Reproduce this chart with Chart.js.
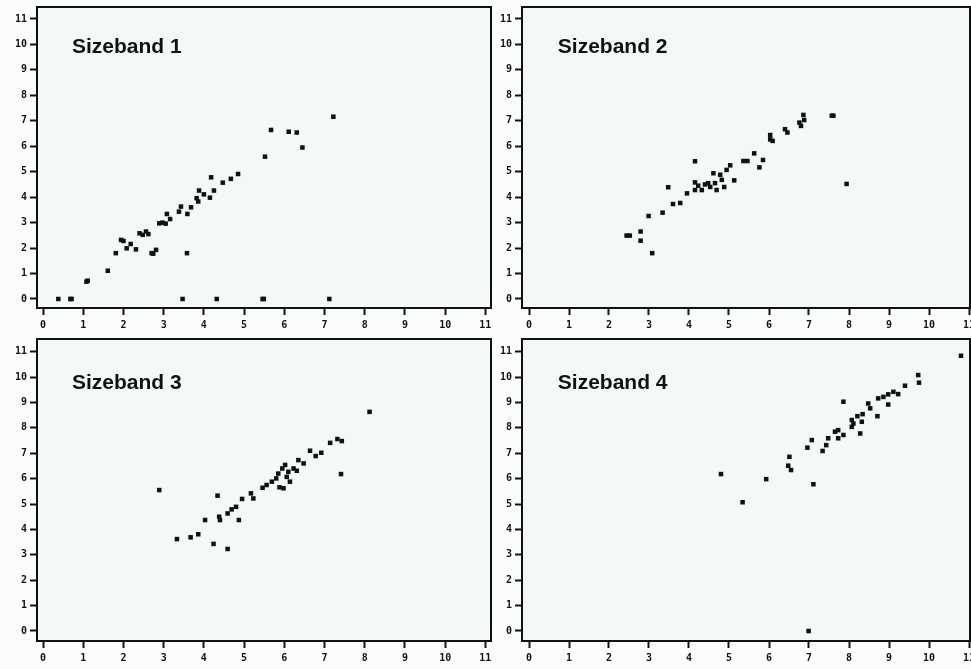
<!DOCTYPE html>
<html>
<head>
<meta charset="utf-8">
<script src="https://cdn.jsdelivr.net/npm/chart.js@4/dist/chart.umd.min.js"></script>
<style>
  html,body{margin:0;padding:0;background:#fbfdfc;}
  #wrap{position:relative;width:971px;height:669px;overflow:hidden;}
  canvas{position:absolute;}
</style>
</head>
<body>
<div id="wrap">
  <canvas id="sb1" style="left:0;top:0" width="495" height="335"></canvas>
  <canvas id="sb2" style="left:485px;top:0" width="489" height="335"></canvas>
  <canvas id="sb3" style="left:0;top:332px" width="495" height="337"></canvas>
  <canvas id="sb4" style="left:485px;top:332px" width="489" height="337"></canvas>
</div>
<script>
// tick labels shared by all four panels
const axisTicks = [0,1,2,3,4,5,6,7,8,9,10,11];
const panelTitles = ['Sizeband 1','Sizeband 2','Sizeband 3','Sizeband 4'];

// Sizeband 1
const sb1X = [0.38,0.68,0.71,1.08,1.11,1.61,1.81,1.94,2.0,2.08,2.18,2.31,2.40,2.48,2.56,2.62,2.70,2.74,2.81,2.89,2.97,3.05,3.08,3.16,3.38,3.43,3.59,3.58,3.47,3.68,3.82,3.86,3.88,4.0,4.15,4.18,4.25,4.32,4.47,4.67,4.85,5.52,5.46,5.49,5.67,6.11,6.31,6.45,7.12,7.22];
const sb1Y = [0,0,0,0.68,0.72,1.11,1.80,2.32,2.28,1.99,2.16,1.95,2.58,2.52,2.65,2.55,1.80,1.78,1.93,2.97,3.0,2.96,3.34,3.14,3.43,3.63,3.34,1.80,0,3.60,3.96,3.83,4.26,4.11,3.98,4.78,4.26,0,4.57,4.72,4.91,5.59,0,0,6.64,6.57,6.54,5.95,0,7.16];

// Sizeband 2
const sb2X = [2.44,2.52,2.79,2.79,2.99,3.08,3.34,3.48,3.60,3.78,3.95,4.15,4.15,4.15,4.23,4.32,4.40,4.48,4.53,4.61,4.65,4.69,4.78,4.82,4.88,4.94,5.03,5.13,5.36,5.46,5.63,5.76,5.85,6.03,6.03,6.09,6.40,6.46,6.76,6.80,6.86,6.88,7.57,7.61,7.94];
const sb2Y = [2.49,2.49,2.65,2.29,3.26,1.80,3.39,4.39,3.73,3.77,4.15,5.41,4.58,4.28,4.45,4.28,4.50,4.55,4.40,4.94,4.55,4.28,4.88,4.68,4.40,5.07,5.25,4.66,5.42,5.42,5.72,5.17,5.46,6.44,6.27,6.21,6.67,6.54,6.93,6.80,7.23,7.03,7.20,7.20,4.52];

// Sizeband 3
const sb3X = [2.89,3.33,3.67,3.86,4.03,4.24,4.34,4.38,4.40,4.59,4.59,4.69,4.80,4.87,4.95,5.17,5.23,5.46,5.56,5.69,5.80,5.85,5.88,5.95,5.98,6.02,6.06,6.10,6.14,6.23,6.35,6.31,6.48,6.64,6.78,6.92,7.14,7.32,7.43,7.41,8.12];
const sb3Y = [5.55,3.62,3.69,3.81,4.37,3.43,5.33,4.50,4.37,4.63,3.23,4.79,4.89,4.37,5.20,5.42,5.22,5.64,5.75,5.88,6.01,6.20,5.66,6.40,5.62,6.54,6.07,6.27,5.88,6.40,6.73,6.31,6.60,7.10,6.89,7.02,7.41,7.56,7.48,6.18,8.63];

// Sizeband 4
const sb4X = [4.80,5.34,5.93,6.48,6.51,6.55,6.96,6.99,7.07,7.11,7.34,7.43,7.48,7.65,7.73,7.73,7.86,7.86,8.07,8.07,8.11,8.21,8.28,8.32,8.34,8.48,8.53,8.71,8.73,8.86,8.98,8.98,9.11,9.23,9.40,9.73,9.75,10.80];
const sb4Y = [6.18,5.07,5.98,6.51,6.86,6.34,7.22,0,7.52,5.78,7.09,7.32,7.59,7.85,7.91,7.59,7.72,9.03,8.31,8.04,8.17,8.46,7.78,8.24,8.54,8.96,8.77,8.46,9.16,9.22,9.32,8.92,9.42,9.33,9.66,10.08,9.78,10.84];

const INK = '#111';
const PLOT_BG = '#f4f9f6';
const tickFont = {family:'"DejaVu Sans Mono", monospace', size:10, weight:'bold'};

const framePlugin = {
  id:'frame',
  beforeDraw(chart){
    const {ctx, chartArea:a} = chart;
    ctx.save();
    ctx.fillStyle = PLOT_BG;
    ctx.fillRect(a.left, a.top, a.right-a.left, a.bottom-a.top);
    ctx.restore();
  },
  afterDraw(chart){
    const {ctx, chartArea:a, scales} = chart;
    const opts = chart.options.plugins.frame;
    ctx.save();
    ctx.strokeStyle = INK;
    ctx.lineWidth = 2;
    ctx.strokeRect(a.left, a.top, a.right-a.left, a.bottom-a.top);
    ctx.font = 'bold 21px "Liberation Sans", Arial, sans-serif';
    ctx.fillStyle = INK;
    ctx.textBaseline = 'middle';
    ctx.fillText(opts.label, scales.x.getPixelForValue(0.72), scales.y.getPixelForValue(opts.at));
    ctx.restore();
  }
};

function points(xs, ys){
  return xs.map((x,i) => ({x:x, y:ys[i]}));
}

function axisOptions(min, max, isX, fitSize){
  return {
    type:'linear', min:min, max:max,
    afterBuildTicks: ax => { ax.ticks = axisTicks.map(v => ({value:v})); },
    afterFit: s => {
      if(isX){ s.height = fitSize; s.paddingLeft = 0; s.paddingRight = 0; }
      else { s.width = fitSize; s.paddingTop = 0; s.paddingBottom = 0; }
    },
    ticks:{autoSkip:false, maxRotation:0, color:INK, font:tickFont, padding:isX ? 4 : 3},
    grid:{drawOnChartArea:false, tickLength:7, tickColor:INK, tickWidth:2},
    border:{display:true, color:INK, width:2}
  };
}

function makePanel(id, title, titleAt, xs, ys, xr, yr, xh){
  return new Chart(document.getElementById(id), {
    type:'scatter',
    data:{datasets:[{data:points(xs, ys), backgroundColor:INK, borderWidth:0, pointStyle:'rect', pointRadius:3.2}]},
    options:{
      responsive:false, animation:false,
      layout:{padding:{top:7, right:1, left:0, bottom:0}},
      plugins:{legend:{display:false}, tooltip:{enabled:false}, frame:{label:title, at:titleAt}},
      scales:{
        x:axisOptions(xr[0], xr[1], true, xh),
        y:axisOptions(yr[0], yr[1], false, 37)
      }
    },
    plugins:[framePlugin]
  });
}

makePanel('sb1', panelTitles[0], 9.9, sb1X, sb1Y, [-0.15, 11.14], [-0.354, 11.47], 27);
makePanel('sb2', panelTitles[1], 9.9, sb2X, sb2Y, [-0.175, 11.025], [-0.354, 11.47], 27);
makePanel('sb3', panelTitles[2], 9.75, sb3X, sb3Y, [-0.15, 11.14], [-0.394, 11.5], 28);
makePanel('sb4', panelTitles[3], 9.75, sb4X, sb4Y, [-0.175, 11.025], [-0.394, 11.5], 28);
</script>
</body>
</html>
